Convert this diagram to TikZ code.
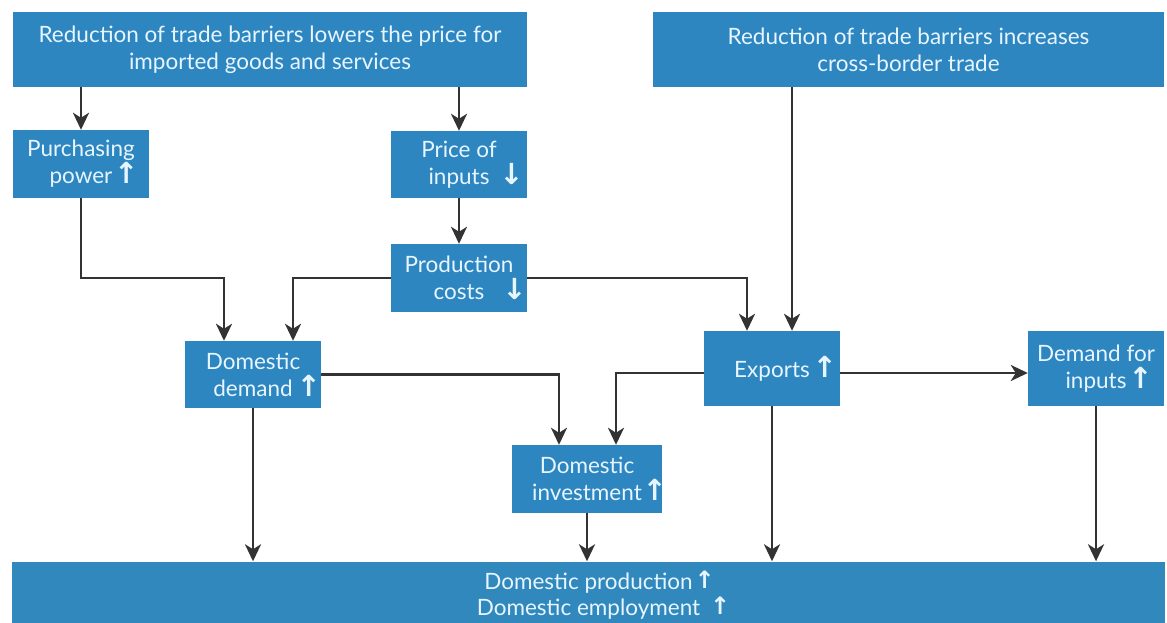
\documentclass[tikz,border=0pt]{standalone}
\usepackage{fontspec}
\setmainfont{Lato}
\newfontfamily\arrfont{DejaVu Sans}
\usetikzlibrary{arrows.meta}
\definecolor{boxblue}{HTML}{2E86C0}
\definecolor{botblue}{HTML}{3188BD}
\definecolor{boxtext}{HTML}{E6F5FF}
\definecolor{linegray}{HTML}{333333}
\newcommand{\upa}[1]{\rlap{\hspace{#1pt}\makebox[0pt][c]{\fontsize{29}{29}\arrfont\bfseries ↑}}}
\newcommand{\dna}[1]{\rlap{\hspace{#1pt}\makebox[0pt][c]{\fontsize{29}{29}\arrfont\bfseries ↓}}}
\newcommand{\upb}[1]{\rlap{\hspace{#1pt}\makebox[0pt][c]{\raisebox{1.5pt}{\fontsize{24}{24}\arrfont\bfseries ↑}}}}
\tikzset{
  flowbox/.style={rectangle, fill=boxblue, text=boxtext, inner sep=0pt, align=center,
    font=\fontsize{22.5}{27}\selectfont},
  flowarr/.style={draw=linegray, line width=2.8pt, -{Stealth[length=17pt,width=16pt,inset=5pt]}},
}
\begin{document}
\begin{tikzpicture}[x=1pt,y=-1pt]
\useasboundingbox (0,0) rectangle (1167,623);
\node[flowbox, minimum width=514pt, minimum height=75pt] (top1) at (270,49.5)
  {Reduction of trade barriers lowers the price for\\imported goods and services};
\node[flowbox, minimum width=511pt, minimum height=75pt] (top2) at (908.5,49.5)
  {Reduction of trade barriers increases\\cross-border trade};
\node[flowbox, minimum width=136pt, minimum height=68pt] (pp) at (81,164)
  {Purchasing\\power\upa{14}};
\node[flowbox, minimum width=136pt, minimum height=67pt] (price) at (459,164.5)
  {Price of\\inputs\dna{22}};
\node[flowbox, minimum width=136pt, minimum height=68pt] (prod) at (459,278)
  {Production\\costs\dna{30}};
\node[flowbox, minimum width=136pt, minimum height=67pt] (dd) at (253,374.5)
  {Domestic\\demand\upa{16}};
\node[flowbox, minimum width=136pt, minimum height=75pt] (exp) at (772,368.5)
  {Exports\upa{15}};
\node[flowbox, minimum width=136pt, minimum height=75pt] (dfi) at (1096,368.5)
  {Demand for\\inputs\upa{14}};
\node[flowbox, minimum width=150pt, minimum height=68pt] (inv) at (587,479)
  {Domestic\\investment\upa{13}};
\node[flowbox, fill=botblue, minimum width=1153pt, minimum height=67pt,
  font=\fontsize{22.5}{26}\selectfont] (bot) at (588.5,595)
  {Domestic production\upb{12}\\Domestic employment\upb{20}};

\coordinate (ddA) at ([xshift=-29pt]dd.north);
\coordinate (ddB) at ([xshift=40pt]dd.north);
\coordinate (expA) at ([xshift=-25pt]exp.north);
\coordinate (expB) at ([xshift=20pt]exp.north);
\coordinate (expE) at ([yshift=-4.5pt]exp.east);
\coordinate (expW) at ([yshift=-4.5pt]exp.west);
\coordinate (invA) at ([xshift=-28pt]inv.north);
\coordinate (invB) at ([xshift=29pt]inv.north);

\draw[flowarr] (pp.north |- top1.south) -- (pp.north);
\draw[flowarr] (price.north |- top1.south) -- (price.north);
\draw[flowarr] (price.south) -- (prod.north);
\draw[flowarr] (pp.south) |- (ddA |- prod.west) -- (ddA);
\draw[flowarr] (prod.west) -| (ddB);
\draw[flowarr] (prod.east) -| (expA);
\draw[flowarr] (expB |- top2.south) -- (expB);
\draw[flowarr] (expE) -- (expE -| dfi.west);
\draw[flowarr] (expW) -| (invB);
\draw[flowarr] (dd.east) -| (invA);
\draw[flowarr] (dd.south) -- (dd.south |- bot.north);
\draw[flowarr] (inv.south) -- (inv.south |- bot.north);
\draw[flowarr] (exp.south) -- (exp.south |- bot.north);
\draw[flowarr] (dfi.south) -- (dfi.south |- bot.north);
\end{tikzpicture}
\end{document}
